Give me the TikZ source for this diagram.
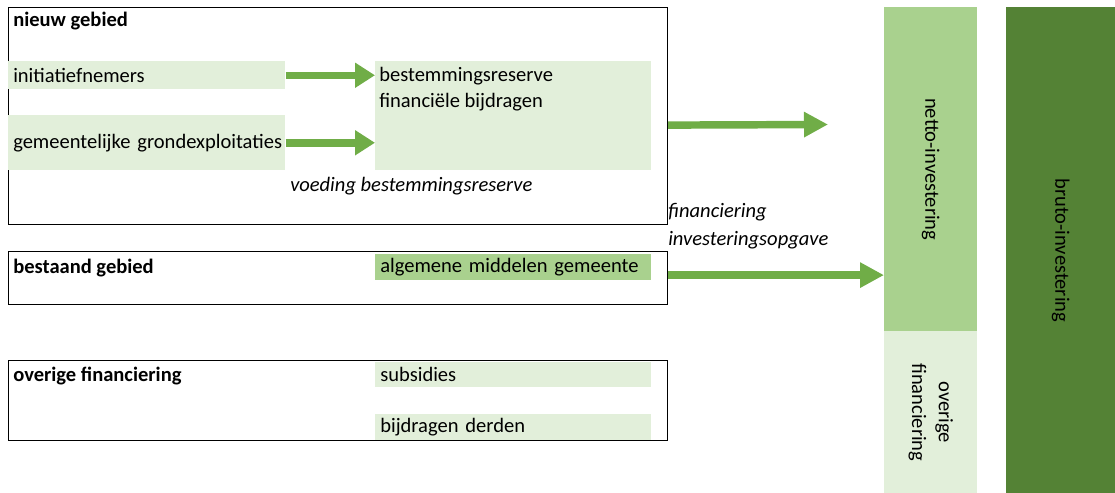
\documentclass[tikz,border=0pt]{standalone}
\usepackage{fontspec}
\setmainfont{Carlito}
\usetikzlibrary{arrows.meta}
\definecolor{lightgreen}{HTML}{E2EFDA}
\definecolor{midgreen}{HTML}{A9D18E}
\definecolor{darkgreen}{HTML}{548235}
\definecolor{arrowgreen}{HTML}{70AD47}
\begin{document}
\begin{tikzpicture}
      [x=0.75pt,y=-0.75pt,every node/.style={inner sep=0pt, font=\fontsize{15.4}{18.5}\selectfont},
       frame/.style={draw=black, line width=0.9pt, anchor=north west},
       title/.style={anchor=west, font=\fontsize{15.4}{18.5}\selectfont\bfseries},
       note/.style={anchor=west, font=\fontsize{15.4}{18.5}\selectfont\itshape},
       cell/.style={fill=lightgreen, anchor=north west, inner xsep=3.75pt, align=left},
       bar/.style={anchor=north west},
       flow/.style={line width=5.6pt, arrowgreen, -{Triangle[length=15pt, width=18pt]}},
       bigflow/.style={flow, -{Triangle[length=18pt, width=18pt]}}]
    \useasboundingbox (0,0) rectangle (1115,493);

    \node[frame, minimum width=494.25pt, minimum height=162.75pt] (nieuw) at (8,7) {};
    \node[frame, minimum width=494.25pt, minimum height=39.75pt] (bestaand) at (8,251) {};
    \node[frame, minimum width=494.25pt, minimum height=60pt] (overig) at (8,360) {};

    \node[title] (nieuwtxt) at (13,21) {nieuw gebied};
    \node[title] (bestaandtxt) at (13,268) {bestaand gebied};
    \node[title] (overigtxt) at (13,376) {overige financiering};

    \node[cell, text width=200.25pt, minimum height=21pt] (init) at (8,61) {initiatiefnemers};
    \node[cell, text width=200.25pt, minimum height=41.25pt] (gemeente) at (8,115) {\mbox{gemeentelijke grondexploitaties}};
    \node[cell, minimum width=207pt, minimum height=81.75pt] (reserve) at (375,61) {};
    \node[anchor=north west, align=left, font=\fontsize{15.4}{19.5}\selectfont] (reservetxt) at (379,67) {bestemmingsreserve\\financiële bijdragen};
    \node[note] (voeding) at (290,186) {voeding bestemmingsreserve};

    \node[cell, fill=midgreen, text width=199.5pt, minimum height=19.5pt] (algemene) at (375,254) {algemene middelen gemeente};
    \node[cell, text width=199.5pt, minimum height=18.75pt] (subsidies) at (375,362) {subsidies};
    \node[cell, text width=199.5pt, minimum height=19.5pt] (derden) at (375,414) {bijdragen derden};

    \node[anchor=north west, align=left, font=\fontsize{15.4}{21}\selectfont\itshape] (financiering) at (668,203) {financiering\\investeringsopgave};

    \node[bar, fill=midgreen, minimum width=69.75pt, minimum height=243pt] (netto) at (884,7) {};
    \node[bar, fill=lightgreen, minimum width=69.75pt, minimum height=121.5pt] (overige) at (884,331) {};
    \node[bar, fill=darkgreen, minimum width=81.75pt, minimum height=364.5pt] (bruto) at (1006,7) {};
    \node[rotate=-90] (nettotxt) at (netto.center) {netto-investering};
    \node[rotate=-90, align=center, font=\fontsize{15.4}{20}\selectfont] (overigetxt) at (overige.center) {overige\\financiering};
    \node[rotate=-90] (brutotxt) at (bruto.center) {bruto-investering};

    \coordinate (nettoin) at (828,124.5);

    \foreach \src in {init, gemeente}
      \draw[flow] (\src.east) -- (\src.east -| reserve.west);

    \draw[bigflow] ([yshift=-6.75pt]nieuw.east) -- (nettoin);
    \draw[bigflow] ([yshift=2.25pt]bestaand.east) -- ([yshift=2.25pt]bestaand.east -| netto.west);
\end{tikzpicture}
\end{document}
